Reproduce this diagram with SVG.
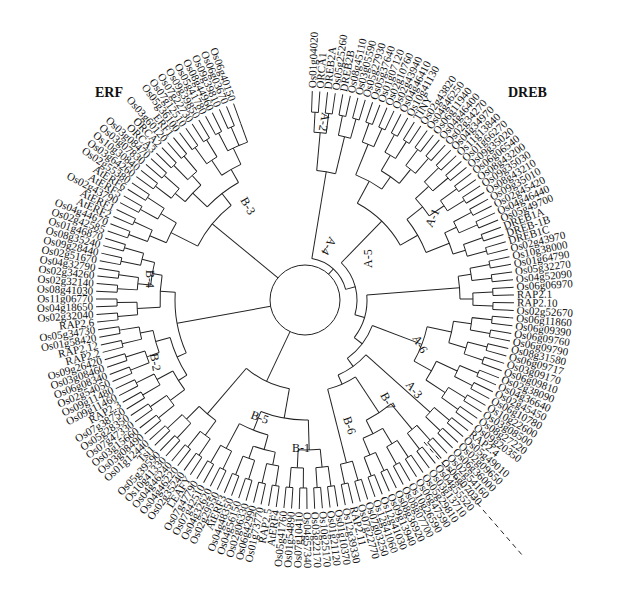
<svg xmlns="http://www.w3.org/2000/svg" width="623" height="600" viewBox="0 0 623 600">
<style>
.t line,.t circle,.t path{stroke:#222;fill:none;stroke-width:1}
text{font-family:"Liberation Serif","Times New Roman",serif;fill:#111}
.lab text{font-size:11px}
.lab .l{text-anchor:end}
.sf{font-size:12px}
.big{font-size:14px;font-weight:bold}
</style>
<rect width="623" height="600" fill="#fff"/>
<g id="connectors" class="t" transform="translate(305,300)">
<circle r="35"/>
<path d="M6.44,-198.40 A198.5,198.5 0 1 1 -67.24,-186.77" pathLength="338.34" stroke-dasharray="0.28 1.8325" style="stroke-width:21"/>
<path d="M6.56,-187.89 A188,188 0 1 1 -64.30,-176.66" pathLength="338" stroke-dasharray="2.1125 2.1125"/>
<path d="M9.0,-177.77 A178,178 0 1 1 -63.79,-166.18" pathLength="336.1" stroke-dasharray="0.32 3.905" style="stroke-width:20"/>
<path d="M8.96,-167.76 A168,168 0 1 1 -57.46,-157.87" pathLength="336.944" stroke-dasharray="4.225 4.225"/>
<line x1="168" x2="188" transform="rotate(250)"/>
<circle r="168" pathLength="360" stroke-dasharray="3.17 720" transform="rotate(246.83)"/>
<circle r="130" pathLength="360" stroke-dasharray="8.45 720" transform="rotate(-84.83)"/>
<line x1="130" x2="168" transform="rotate(-84.83)"/><line x1="130" x2="168" transform="rotate(-76.38)"/>
<circle r="150" pathLength="360" stroke-dasharray="8.45 720" transform="rotate(-59.48)"/>
<line x1="150" x2="168" transform="rotate(-59.48)"/><line x1="150" x2="168" transform="rotate(-51.03)"/>
<circle r="135" pathLength="360" stroke-dasharray="12.67 720" transform="rotate(-67.93)"/>
<line x1="135" x2="168" transform="rotate(-67.93)"/><line x1="135" x2="150" transform="rotate(-55.26)"/>
<circle r="150" pathLength="360" stroke-dasharray="8.45 720" transform="rotate(-42.58)"/>
<line x1="150" x2="168" transform="rotate(-42.58)"/><line x1="150" x2="168" transform="rotate(-34.13)"/>
<circle r="155" pathLength="360" stroke-dasharray="8.45 720" transform="rotate(-25.68)"/>
<line x1="155" x2="168" transform="rotate(-25.68)"/><line x1="155" x2="168" transform="rotate(-17.23)"/>
<circle r="130" pathLength="360" stroke-dasharray="16.9 720" transform="rotate(-38.36)"/>
<line x1="130" x2="150" transform="rotate(-38.36)"/><line x1="130" x2="155" transform="rotate(-21.46)"/>
<circle r="155" pathLength="360" stroke-dasharray="8.45 720" transform="rotate(-8.78)"/>
<line x1="155" x2="168" transform="rotate(-8.78)"/><line x1="155" x2="168" transform="rotate(-0.33)"/>
<circle r="150" pathLength="360" stroke-dasharray="8.45 720" transform="rotate(8.12)"/>
<line x1="150" x2="168" transform="rotate(8.12)"/><line x1="150" x2="168" transform="rotate(16.57)"/>
<circle r="145" pathLength="360" stroke-dasharray="8.45 720" transform="rotate(25.02)"/>
<line x1="145" x2="168" transform="rotate(25.02)"/><line x1="145" x2="168" transform="rotate(33.47)"/>
<circle r="125" pathLength="360" stroke-dasharray="16.9 720" transform="rotate(12.35)"/>
<line x1="125" x2="150" transform="rotate(12.35)"/><line x1="125" x2="145" transform="rotate(29.25)"/>
<circle r="150" pathLength="360" stroke-dasharray="8.45 720" transform="rotate(58.82)"/>
<line x1="150" x2="168" transform="rotate(58.82)"/><line x1="150" x2="168" transform="rotate(67.27)"/>
<circle r="135" pathLength="360" stroke-dasharray="12.68 720" transform="rotate(50.37)"/>
<line x1="135" x2="168" transform="rotate(50.37)"/><line x1="135" x2="150" transform="rotate(63.05)"/>
<circle r="92" pathLength="360" stroke-dasharray="19.01 720" transform="rotate(56.71)"/>
<line x1="92" x2="135" transform="rotate(56.71)"/><line x1="92" x2="168" transform="rotate(75.72)"/>
<circle r="82" pathLength="360" stroke-dasharray="24.28 720" transform="rotate(41.92)"/>
<line x1="82" x2="168" transform="rotate(41.92)"/><line x1="82" x2="92" transform="rotate(66.2)"/>
<circle r="72" pathLength="360" stroke-dasharray="33.26 720" transform="rotate(20.8)"/>
<line x1="72" x2="125" transform="rotate(20.8)"/><line x1="72" x2="82" transform="rotate(54.06)"/>
<circle r="62" pathLength="360" stroke-dasharray="41.99 720" transform="rotate(-4.56)"/>
<line x1="62" x2="155" transform="rotate(-4.56)"/><line x1="62" x2="72" transform="rotate(37.43)"/>
<circle r="110" pathLength="360" stroke-dasharray="31.7 720" transform="rotate(-61.6)"/>
<line x1="110" x2="135" transform="rotate(-61.6)"/><line x1="110" x2="130" transform="rotate(-29.9)"/>
<circle r="52" pathLength="360" stroke-dasharray="62.18 720" transform="rotate(-45.75)"/>
<line x1="52" x2="110" transform="rotate(-45.75)"/><line x1="52" x2="62" transform="rotate(16.43)"/>
<circle r="42" pathLength="360" stroke-dasharray="65.94 720" transform="rotate(-80.6)"/>
<line x1="42" x2="130" transform="rotate(-80.6)"/><line x1="42" x2="52" transform="rotate(-14.66)"/>
<line x1="35" x2="42" transform="rotate(-47.63)"/>
<circle r="150" pathLength="360" stroke-dasharray="8.45 720" transform="rotate(84.17)"/>
<line x1="150" x2="168" transform="rotate(84.17)"/><line x1="150" x2="168" transform="rotate(92.62)"/>
<circle r="155" pathLength="360" stroke-dasharray="8.45 720" transform="rotate(101.07)"/>
<line x1="155" x2="168" transform="rotate(101.07)"/><line x1="155" x2="168" transform="rotate(109.52)"/>
<circle r="140" pathLength="360" stroke-dasharray="12.67 720" transform="rotate(105.3)"/>
<line x1="140" x2="155" transform="rotate(105.3)"/><line x1="140" x2="168" transform="rotate(117.97)"/>
<circle r="120" pathLength="360" stroke-dasharray="23.2 720" transform="rotate(88.4)"/>
<line x1="120" x2="150" transform="rotate(88.4)"/><line x1="120" x2="140" transform="rotate(111.6)"/>
<circle r="150" pathLength="360" stroke-dasharray="8.45 720" transform="rotate(126.42)"/>
<line x1="150" x2="168" transform="rotate(126.42)"/><line x1="150" x2="168" transform="rotate(134.87)"/>
<circle r="90" pathLength="360" stroke-dasharray="30.65 720" transform="rotate(100)"/>
<line x1="90" x2="120" transform="rotate(100)"/><line x1="90" x2="150" transform="rotate(130.65)"/>
<line x1="35" x2="90" transform="rotate(115.3)"/>
<circle r="150" pathLength="360" stroke-dasharray="8.45 720" transform="rotate(143.32)"/>
<line x1="150" x2="168" transform="rotate(143.32)"/><line x1="150" x2="168" transform="rotate(151.77)"/>
<circle r="155" pathLength="360" stroke-dasharray="8.45 720" transform="rotate(160.22)"/>
<line x1="155" x2="168" transform="rotate(160.22)"/><line x1="155" x2="168" transform="rotate(168.67)"/>
<circle r="140" pathLength="360" stroke-dasharray="16.9 720" transform="rotate(147.55)"/>
<line x1="140" x2="150" transform="rotate(147.55)"/><line x1="140" x2="155" transform="rotate(164.45)"/>
<circle r="155" pathLength="360" stroke-dasharray="8.45 720" transform="rotate(185.57)"/>
<line x1="155" x2="168" transform="rotate(185.57)"/><line x1="155" x2="168" transform="rotate(194.02)"/>
<circle r="145" pathLength="360" stroke-dasharray="12.68 720" transform="rotate(177.12)"/>
<line x1="145" x2="168" transform="rotate(177.12)"/><line x1="145" x2="155" transform="rotate(189.8)"/>
<circle r="130" pathLength="360" stroke-dasharray="27.46 720" transform="rotate(156)"/>
<line x1="130" x2="140" transform="rotate(156)"/><line x1="130" x2="145" transform="rotate(183.46)"/>
<line x1="35" x2="130" transform="rotate(169.7)"/>
<circle r="150" pathLength="360" stroke-dasharray="8.45 720" transform="rotate(202.47)"/>
<line x1="150" x2="168" transform="rotate(202.47)"/><line x1="150" x2="168" transform="rotate(210.92)"/>
<circle r="155" pathLength="360" stroke-dasharray="8.45 720" transform="rotate(219.37)"/>
<line x1="155" x2="168" transform="rotate(219.37)"/><line x1="155" x2="168" transform="rotate(227.82)"/>
<circle r="150" pathLength="360" stroke-dasharray="8.45 720" transform="rotate(236.27)"/>
<line x1="150" x2="168" transform="rotate(236.27)"/><line x1="150" x2="168" transform="rotate(244.72)"/>
<circle r="135" pathLength="360" stroke-dasharray="16.9 720" transform="rotate(223.6)"/>
<line x1="135" x2="155" transform="rotate(223.6)"/><line x1="135" x2="150" transform="rotate(240.5)"/>
<circle r="120" pathLength="360" stroke-dasharray="25.35 720" transform="rotate(206.7)"/>
<line x1="120" x2="150" transform="rotate(206.7)"/><line x1="120" x2="135" transform="rotate(232.05)"/>
<line x1="35" x2="120" transform="rotate(219.4)"/>
</g>
<line x1="424" y1="442" x2="523" y2="556" stroke="#222" stroke-width="1" stroke-dasharray="5 4"/>
<g id="leaves" class="lab" transform="translate(305,300)">
<text transform="rotate(-88)" x="212" y="3.5">Os01g04020</text>
<text transform="rotate(-85.89)" x="212" y="3.5">ORCA1</text>
<text transform="rotate(-83.78)" x="212" y="3.5">DREB2A</text>
<text transform="rotate(-81.66)" x="212" y="3.5">Os05g25260</text>
<text transform="rotate(-79.55)" x="212" y="3.5">DREB2B</text>
<text transform="rotate(-77.44)" x="212" y="3.5">Os08g45110</text>
<text transform="rotate(-75.33)" x="212" y="3.5">Os03g05590</text>
<text transform="rotate(-73.21)" x="212" y="3.5">Os05g27930</text>
<text transform="rotate(-71.10)" x="212" y="3.5">Os05g37640</text>
<text transform="rotate(-68.99)" x="212" y="3.5">Os01g07120</text>
<text transform="rotate(-66.88)" x="212" y="3.5">Os02g10760</text>
<text transform="rotate(-64.76)" x="212" y="3.5">Os02g43940</text>
<text transform="rotate(-62.65)" x="212" y="3.5">Os04g46410</text>
<text transform="rotate(-60.54)" x="212" y="3.5">Os10g41130</text>
<text transform="rotate(-58.43)" x="212" y="3.5">TINY</text>
<text transform="rotate(-56.31)" x="212" y="3.5">Os02g43820</text>
<text transform="rotate(-54.20)" x="212" y="3.5">Os04g46250</text>
<text transform="rotate(-52.09)" x="212" y="3.5">Os06g11940</text>
<text transform="rotate(-49.98)" x="212" y="3.5">Os04g46400</text>
<text transform="rotate(-47.86)" x="212" y="3.5">Os02g34270</text>
<text transform="rotate(-45.75)" x="212" y="3.5">Os04g34970</text>
<text transform="rotate(-43.64)" x="212" y="3.5">Os11g13840</text>
<text transform="rotate(-41.53)" x="212" y="3.5">Os01g66270</text>
<text transform="rotate(-39.41)" x="212" y="3.5">Os09g35020</text>
<text transform="rotate(-37.30)" x="212" y="3.5">Os06g06540</text>
<text transform="rotate(-35.19)" x="212" y="3.5">Os08g43200</text>
<text transform="rotate(-33.08)" x="212" y="3.5">Os09g35030</text>
<text transform="rotate(-30.96)" x="212" y="3.5">Os08g43210</text>
<text transform="rotate(-28.85)" x="212" y="3.5">Os09g35010</text>
<text transform="rotate(-26.74)" x="212" y="3.5">Os02g45420</text>
<text transform="rotate(-24.63)" x="212" y="3.5">Os04g46440</text>
<text transform="rotate(-22.51)" x="212" y="3.5">Os05g49700</text>
<text transform="rotate(-20.40)" x="212" y="3.5">DREB1A</text>
<text transform="rotate(-18.29)" x="212" y="3.5">DREB-1B</text>
<text transform="rotate(-16.18)" x="212" y="3.5">DREB1C</text>
<text transform="rotate(-14.06)" x="212" y="3.5">Os02g43970</text>
<text transform="rotate(-11.95)" x="212" y="3.5">Os10g38000</text>
<text transform="rotate(-9.84)" x="212" y="3.5">Os01g64790</text>
<text transform="rotate(-7.73)" x="212" y="3.5">Os05g32270</text>
<text transform="rotate(-5.61)" x="212" y="3.5">Os04g52090</text>
<text transform="rotate(-3.50)" x="212" y="3.5">Os06g06970</text>
<text transform="rotate(-1.39)" x="212" y="3.5">RAP2.1</text>
<text transform="rotate(0.73)" x="212" y="3.5">RAP2.10</text>
<text transform="rotate(2.84)" x="212" y="3.5">Os02g52670</text>
<text transform="rotate(4.95)" x="212" y="3.5">Os06g11860</text>
<text transform="rotate(7.06)" x="212" y="3.5">Os06g09390</text>
<text transform="rotate(9.18)" x="212" y="3.5">Os06g09760</text>
<text transform="rotate(11.29)" x="212" y="3.5">Os06g09790</text>
<text transform="rotate(13.40)" x="212" y="3.5">Os08g31580</text>
<text transform="rotate(15.51)" x="212" y="3.5">Os06g09717</text>
<text transform="rotate(17.63)" x="212" y="3.5">Os03g09170</text>
<text transform="rotate(19.74)" x="212" y="3.5">Os06g09810</text>
<text transform="rotate(21.85)" x="212" y="3.5">Os02g38090</text>
<text transform="rotate(23.96)" x="212" y="3.5">Os04g36640</text>
<text transform="rotate(26.08)" x="212" y="3.5">Os02g45450</text>
<text transform="rotate(28.19)" x="212" y="3.5">Os06g10780</text>
<text transform="rotate(30.30)" x="212" y="3.5">Os10g22600</text>
<text transform="rotate(32.41)" x="212" y="3.5">Os03g08500</text>
<text transform="rotate(34.53)" x="212" y="3.5">Os08g27220</text>
<text transform="rotate(36.64)" x="212" y="3.5">Os09g20350</text>
<text transform="rotate(38.75)" x="212" y="3.5">RAP2.4</text>
<text transform="rotate(40.86)" x="212" y="3.5">Os05g49010</text>
<text transform="rotate(42.98)" x="212" y="3.5">Os02g09650</text>
<text transform="rotate(45.09)" x="212" y="3.5">Os06g36000</text>
<text transform="rotate(47.20)" x="212" y="3.5">Os02g54160</text>
<text transform="rotate(49.31)" x="212" y="3.5">Os06g07030</text>
<text transform="rotate(51.43)" x="212" y="3.5">Os04g55520</text>
<text transform="rotate(53.54)" x="212" y="3.5">Os03g13710</text>
<text transform="rotate(55.65)" x="212" y="3.5">Os05g29810</text>
<text transform="rotate(57.76)" x="212" y="3.5">Os06g47590</text>
<text transform="rotate(59.88)" x="212" y="3.5">Os10g26590</text>
<text transform="rotate(61.99)" x="212" y="3.5">Os08g07700</text>
<text transform="rotate(64.10)" x="212" y="3.5">Os08g36920</text>
<text transform="rotate(66.21)" x="212" y="3.5">Os09g13940</text>
<text transform="rotate(68.33)" x="212" y="3.5">Os12g41030</text>
<text transform="rotate(70.44)" x="212" y="3.5">Os12g41060</text>
<text transform="rotate(72.55)" x="212" y="3.5">Os07g03250</text>
<text transform="rotate(74.66)" x="212" y="3.5">Os07g22770</text>
<text transform="rotate(76.78)" x="212" y="3.5">RAP2.11</text>
<text transform="rotate(78.89)" x="212" y="3.5">Os12g39330</text>
<text transform="rotate(81.00)" x="212" y="3.5">Os01g10370</text>
<text transform="rotate(83.11)" x="212" y="3.5">Os01g21120</text>
<text transform="rotate(85.23)" x="212" y="3.5">Os10g25170</text>
<text transform="rotate(87.34)" x="212" y="3.5">Os03g22170</text>
<text transform="rotate(89.45)" x="212" y="3.5">Os04g57340</text>
<text class="l" transform="rotate(-88.44)" x="-212" y="3.5">Os07g10410</text>
<text class="l" transform="rotate(-86.32)" x="-212" y="3.5">Os01g54890</text>
<text class="l" transform="rotate(-84.21)" x="-212" y="3.5">Os05g41760</text>
<text class="l" transform="rotate(-82.10)" x="-212" y="3.5">AtERF4</text>
<text class="l" transform="rotate(-79.99)" x="-212" y="3.5">RAP2.5</text>
<text class="l" transform="rotate(-77.87)" x="-212" y="3.5">Os01g73770</text>
<text class="l" transform="rotate(-75.76)" x="-212" y="3.5">Os06g42990</text>
<text class="l" transform="rotate(-73.65)" x="-212" y="3.5">Os02g06330</text>
<text class="l" transform="rotate(-71.54)" x="-212" y="3.5">Os04g56150</text>
<text class="l" transform="rotate(-69.42)" x="-212" y="3.5">Os04g48350</text>
<text class="l" transform="rotate(-67.31)" x="-212" y="3.5">AtERF3</text>
<text class="l" transform="rotate(-65.20)" x="-212" y="3.5">Os02g29550</text>
<text class="l" transform="rotate(-63.09)" x="-212" y="3.5">Os04g32620</text>
<text class="l" transform="rotate(-60.97)" x="-212" y="3.5">Os07g42510</text>
<text class="l" transform="rotate(-58.86)" x="-212" y="3.5">Os07g47790</text>
<text class="l" transform="rotate(-56.75)" x="-212" y="3.5">LEAFY</text>
<text class="l" transform="rotate(-54.64)" x="-212" y="3.5">Os02g35240</text>
<text class="l" transform="rotate(-52.52)" x="-212" y="3.5">Os04g46220</text>
<text class="l" transform="rotate(-50.41)" x="-212" y="3.5">Os04g46240</text>
<text class="l" transform="rotate(-48.30)" x="-212" y="3.5">Os10g41330</text>
<text class="l" transform="rotate(-46.19)" x="-212" y="3.5">Os05g39590</text>
<text class="l" transform="rotate(-44.07)" x="-212" y="3.5">Tsi1</text>
<text class="l" transform="rotate(-41.96)" x="-212" y="3.5">Os01g12440</text>
<text class="l" transform="rotate(-39.85)" x="-212" y="3.5">Os03g08490</text>
<text class="l" transform="rotate(-37.74)" x="-212" y="3.5">Os03g15660</text>
<text class="l" transform="rotate(-35.62)" x="-212" y="3.5">Os07g47330</text>
<text class="l" transform="rotate(-33.51)" x="-212" y="3.5">Os05g28350</text>
<text class="l" transform="rotate(-31.40)" x="-212" y="3.5">Os07g38750</text>
<text class="l" transform="rotate(-29.29)" x="-212" y="3.5">RAP2.3</text>
<text class="l" transform="rotate(-27.17)" x="-212" y="3.5">Os09g11460</text>
<text class="l" transform="rotate(-25.06)" x="-212" y="3.5">Os09g11480</text>
<text class="l" transform="rotate(-22.95)" x="-212" y="3.5">Os02g54050</text>
<text class="l" transform="rotate(-20.84)" x="-212" y="3.5">Os06g08340</text>
<text class="l" transform="rotate(-18.72)" x="-212" y="3.5">Os03g08460</text>
<text class="l" transform="rotate(-16.61)" x="-212" y="3.5">Os09g26420</text>
<text class="l" transform="rotate(-14.50)" x="-212" y="3.5">RAP2.2</text>
<text class="l" transform="rotate(-12.39)" x="-212" y="3.5">RAP2.12</text>
<text class="l" transform="rotate(-10.27)" x="-212" y="3.5">Os01g58420</text>
<text class="l" transform="rotate(-8.16)" x="-212" y="3.5">Os05g34730</text>
<text class="l" transform="rotate(-6.05)" x="-212" y="3.5">RAP2.6</text>
<text class="l" transform="rotate(-3.94)" x="-212" y="3.5">Os02g32040</text>
<text class="l" transform="rotate(-1.82)" x="-212" y="3.5">Os04g18650</text>
<text class="l" transform="rotate(0.29)" x="-212" y="3.5">Os11g06770</text>
<text class="l" transform="rotate(2.40)" x="-212" y="3.5">Os08g41030</text>
<text class="l" transform="rotate(4.51)" x="-212" y="3.5">Os02g32140</text>
<text class="l" transform="rotate(6.63)" x="-212" y="3.5">Os02g34260</text>
<text class="l" transform="rotate(8.74)" x="-212" y="3.5">Os04g32790</text>
<text class="l" transform="rotate(10.85)" x="-212" y="3.5">Os02g51670</text>
<text class="l" transform="rotate(12.96)" x="-212" y="3.5">Os09g28440</text>
<text class="l" transform="rotate(15.08)" x="-212" y="3.5">Os08g35240</text>
<text class="l" transform="rotate(17.19)" x="-212" y="3.5">Os01g46870</text>
<text class="l" transform="rotate(19.30)" x="-212" y="3.5">Os02g42585</text>
<text class="l" transform="rotate(21.41)" x="-212" y="3.5">Os04g44670</text>
<text class="l" transform="rotate(23.53)" x="-212" y="3.5">AtERF2</text>
<text class="l" transform="rotate(25.64)" x="-212" y="3.5">AtERF1</text>
<text class="l" transform="rotate(27.75)" x="-212" y="3.5">Os02g43790</text>
<text class="l" transform="rotate(29.86)" x="-212" y="3.5">AtERF5</text>
<text class="l" transform="rotate(31.98)" x="-212" y="3.5">AtERF6</text>
<text class="l" transform="rotate(34.09)" x="-212" y="3.5">Os02g55380</text>
<text class="l" transform="rotate(36.20)" x="-212" y="3.5">Os03g64260</text>
<text class="l" transform="rotate(38.31)" x="-212" y="3.5">Os10g30840</text>
<text class="l" transform="rotate(40.43)" x="-212" y="3.5">Os03g07830</text>
<text class="l" transform="rotate(42.54)" x="-212" y="3.5">Os03g08470</text>
<text class="l" transform="rotate(44.65)" x="-212" y="3.5">ORCA3</text>
<text class="l" transform="rotate(46.76)" x="-212" y="3.5">ORCA2</text>
<text class="l" transform="rotate(48.88)" x="-212" y="3.5">Os03g60120</text>
<text class="l" transform="rotate(50.99)" x="-212" y="3.5">ERF1</text>
<text class="l" transform="rotate(53.10)" x="-212" y="3.5">Os05g36100</text>
<text class="l" transform="rotate(55.21)" x="-212" y="3.5">Os07g12510</text>
<text class="l" transform="rotate(57.33)" x="-212" y="3.5">Os07g22730</text>
<text class="l" transform="rotate(59.44)" x="-212" y="3.5">Os09g39850</text>
<text class="l" transform="rotate(61.55)" x="-212" y="3.5">Os05g41780</text>
<text class="l" transform="rotate(63.66)" x="-212" y="3.5">Os08g44960</text>
<text class="l" transform="rotate(65.78)" x="-212" y="3.5">Os09g39810</text>
<text class="l" transform="rotate(67.89)" x="-212" y="3.5">Os06g03670</text>
<text class="l" transform="rotate(70.00)" x="-212" y="3.5">Os06g40150</text>
</g>
<g id="subfamilies">
<text class="sf" transform="translate(322,112) rotate(100)">A-2</text>
<text class="sf" transform="translate(330,236) rotate(120)">A-4</text>
<text class="sf" transform="translate(432,228) rotate(-65)">A-1</text>
<text class="sf" transform="translate(372,268) rotate(-90)">A-5</text>
<text class="sf" transform="translate(412,338) rotate(60)">A-6</text>
<text class="sf" transform="translate(405,385) rotate(50)">A-3</text>
<text class="sf" transform="translate(380,395) rotate(62)">B-7</text>
<text class="sf" transform="translate(343,418) rotate(72)">B-6</text>
<text class="sf" transform="translate(292,452)">B-1</text>
<text class="sf" transform="translate(250,418) rotate(20)">B-5</text>
<text class="sf" transform="translate(150,354) rotate(80)">B-2</text>
<text class="sf" transform="translate(146,270) rotate(90)">B-4</text>
<text class="sf" transform="translate(240,200) rotate(60)">B-3</text>
<text class="big" x="95" y="97">ERF</text>
<text class="big" x="508" y="97">DREB</text>
</g>
</svg>
